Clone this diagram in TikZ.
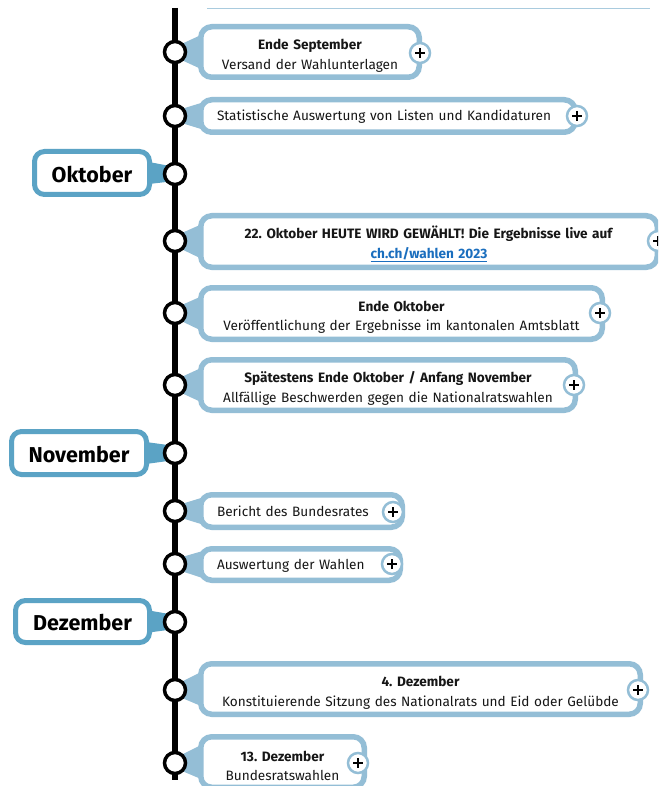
\documentclass[tikz,border=0pt]{standalone}
\usepackage{fontspec}
\setmainfont{Fira Sans}
\usetikzlibrary{backgrounds,calc}
\definecolor{evblue}{RGB}{148,190,214}
\definecolor{moblue}{RGB}{91,163,197}
\definecolor{linkblue}{RGB}{26,110,190}
\definecolor{txt}{RGB}{22,22,22}
\newcommand\evwedge[3]{\fill[evblue] ($(#1.center)+(0,-5)$) -- ($(#2.west)+(3,-#3)$) -- ($(#2.west)+(3,#3)$) -- ($(#1.center)+(0,5)$) -- cycle;}
\newcommand\mowedge[2]{\fill[moblue] ($(#1.center)+(0,-7)$) -- ($(#2.east)+(-3,-11)$) -- ($(#2.east)+(-3,11)$) -- ($(#1.center)+(0,7)$) -- cycle;}
\newcommand\plussign[1]{\draw[black, line width=1.3pt] ($(#1.center)+(-5,0)$) -- ($(#1.center)+(5,0)$) ($(#1.center)+(0,-5)$) -- ($(#1.center)+(0,5)$);}
\begin{document}
\frenchspacing
\begin{tikzpicture}[x=1pt,y=-1pt,
  ev/.style={draw=evblue, line width=5.5pt, fill=white, rounded corners=11pt, inner xsep=6pt, inner ysep=0pt, align=center, text=txt, font=\fontsize{13.6}{19.5}\selectfont, execute at begin node={\rule{0pt}{18pt}}},
  evl/.style={ev, inner xsep=16.25pt, align=left, execute at begin node={\rule[-8pt]{0pt}{8pt}}},
  mo/.style={draw=moblue, line width=5pt, fill=white, rounded corners=10pt, inner sep=0pt, text=black, font=\fontsize{21.5}{24}\selectfont\bfseries, execute at begin node={\rule{0pt}{19pt}}},
  dot/.style={circle, draw=black, line width=3.5pt, fill=white, minimum size=21pt, inner sep=0pt},
  plus/.style={circle, draw=evblue, line width=2.5pt, fill=white, minimum size=20pt, inner sep=0pt},
]
\useasboundingbox (0,0) rectangle (658,786);
\clip (0,0) rectangle (658,786);

% timeline dots
\foreach \i/\y in {1/52,2/116,3/174,4/241,5/313,6/385,7/453,8/511,9/564,10/622,11/690,12/763}
  {\node[dot] (c\i) at (175,\y) {};}
\coordinate (tltop) at (175,8);
\coordinate (tlbot) at (175,780);

% month labels
\node[mo, minimum width=115pt, minimum height=43pt] (m1) at (92,173) {Oktober};
\node[mo, minimum width=135pt, minimum height=43pt] (m2) at (79,453) {November};
\node[mo, minimum width=134pt, minimum height=42pt] (m3) at (82.5,621.5) {Dezember};

% events
\node[ev, text width=206.5pt, minimum height=50.5pt] (e1) at (310,52) {\textbf{Ende September}\\Versand der Wahlunterlagen};
\node[evl, text width=342pt, minimum height=32.5pt] (e2) at (388,116) {Statistische Auswertung von Listen und Kandidaturen};
\node[ev, text width=444.5pt, minimum height=51.5pt] (e4) at (429,241.5) {\textbf{22. Oktober HEUTE WIRD GEWÄHLT! Die Ergebnisse live auf}\\\textbf{\color{linkblue}\underline{ch.ch/wahlen 2023}}};
\node[ev, text width=389.5pt, minimum height=51.5pt] (e5) at (401.5,313.5) {\textbf{Ende Oktober}\\Veröffentlichung der Ergebnisse im kantonalen Amtsblatt};
\node[ev, text width=362.5pt, minimum height=50.5pt] (e6) at (388,385) {\textbf{Spätestens Ende Oktober / Anfang November}\\Allfällige Beschwerden gegen die Nationalratswahlen};
\node[evl, text width=169pt, minimum height=32.5pt] (e8) at (301.5,511) {Bericht des Bundesrates};
\node[evl, text width=167pt, minimum height=31.5pt] (e9) at (300.5,564.5) {Auswertung der Wahlen};
\node[ev, text width=427.5pt, minimum height=50.5pt] (e11) at (420.5,689) {\textbf{4. Dezember}\\Konstituierende Sitzung des Nationalrats und Eid oder Gelübde};
\node[ev, text width=151.5pt, minimum height=50.5pt] (e12) at (282.5,762) {\textbf{13. Dezember}\\Bundesratswahlen};

% plus buttons
\foreach \n/\x/\y in {p1/420/53, p2/577/116, p4/658/241, p5/600/313, p6/574/385, p8/393/512, p9/392/564, p11/638/690, p12/358/763}
  {\node[plus] (\n) at (\x,\y) {}; \plussign{\n}}

\begin{pgfonlayer}{background}
  \fill[white] (0,0) rectangle (658,786);
  \draw[black, line width=6pt] (tltop) -- (tlbot);
  \draw[evblue!80, line width=1pt] (207,9) -- (650,9);
  \evwedge{c1}{e1}{17}
  \evwedge{c2}{e2}{13}
  \evwedge{c4}{e4}{17}
  \evwedge{c5}{e5}{17}
  \evwedge{c6}{e6}{17}
  \evwedge{c8}{e8}{13}
  \evwedge{c9}{e9}{13}
  \evwedge{c11}{e11}{17}
  \evwedge{c12}{e12}{17}
  \mowedge{c3}{m1}
  \mowedge{c7}{m2}
  \mowedge{c10}{m3}
\end{pgfonlayer}
\end{tikzpicture}
\end{document}
